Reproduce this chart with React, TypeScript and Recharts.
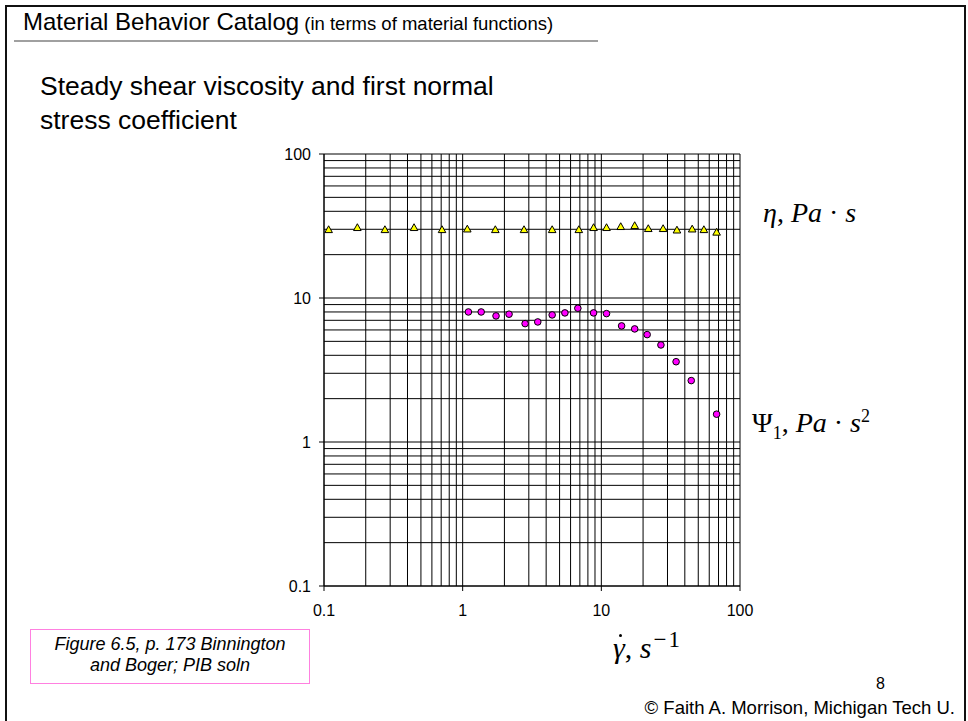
import React from 'react';
import { ScatterChart, Scatter, XAxis, YAxis, ReferenceLine } from 'recharts';

// ---- data ----
const etaRate = [0.108, 0.174, 0.275, 0.446, 0.71, 1.08, 1.72, 2.77, 4.42, 6.88, 8.79, 10.9, 13.8, 17.4, 21.8, 27.9, 35.1, 45.2, 54.9, 67.8];
const etaVal = [30, 31, 30, 31, 30, 30.3, 30, 30, 30, 30, 31, 31, 31.5, 32, 30.5, 30.5, 29.8, 30.3, 30, 28.8];

const psiRate = [1.1, 1.36, 1.74, 2.16, 2.82, 3.48, 4.42, 5.46, 6.77, 8.79, 10.9, 14.0, 17.4, 21.4, 26.9, 34.6, 44.5, 67.8];
const psiVal = [8.0, 8.0, 7.51, 7.72, 6.64, 6.82, 7.63, 7.88, 8.49, 7.88, 7.79, 6.4, 6.1, 5.57, 4.72, 3.61, 2.67, 1.56];

const decadeTicks = [0.1, 1, 10, 100];
const gridValues = [
  0.1, 0.2, 0.3, 0.4, 0.5, 0.6, 0.7, 0.8, 0.9,
  1, 2, 3, 4, 5, 6, 7, 8, 9,
  10, 20, 30, 40, 50, 60, 70, 80, 90,
  100,
];

const etaData = etaRate.map((x, i) => ({ x, y: etaVal[i] }));
const psiData = psiRate.map((x, i) => ({ x, y: psiVal[i] }));

const sans = "'Liberation Sans', Arial, sans-serif";
const serif = "'Liberation Serif', 'Times New Roman', serif";

const Tri = (p: any) => (
  <polygon
    points={`${p.cx - 3.8},${p.cy + 3.3} ${p.cx + 3.8},${p.cy + 3.3} ${p.cx},${p.cy - 3.5}`}
    fill="#ffff00"
    stroke="#000"
    strokeWidth={1}
  />
);
const Dot = (p: any) => (
  <circle cx={p.cx} cy={p.cy} r={3.3} fill="#ff00ff" stroke="#000" strokeWidth={1} />
);

export default function App() {
  return (
    <div
      style={{
        position: 'absolute',
        left: 0,
        top: 0,
        width: 968,
        height: 721,
        overflow: 'hidden',
        background: '#fff',
        fontFamily: sans,
        color: '#000',
      }}
    >
      {/* slide frame */}
      <div
        style={{
          position: 'absolute',
          left: 5,
          top: 5,
          width: 961,
          height: 760,
          boxSizing: 'border-box',
          border: '2.5px solid #111',
        }}
      />
      {/* header */}
      <div style={{ position: 'absolute', left: 23, top: 10, whiteSpace: 'nowrap', lineHeight: 1 }}>
        <span style={{ fontSize: 24 }}>Material Behavior Catalog</span>
        <span style={{ fontSize: 18.5 }}> (in terms of material functions)</span>
      </div>
      <div style={{ position: 'absolute', left: 14, top: 40, width: 584, height: 2, background: '#a0a0a0' }} />
      {/* subtitle */}
      <div style={{ position: 'absolute', left: 40, top: 69, fontSize: 26.5, lineHeight: '34px', whiteSpace: 'nowrap' }}>
        Steady shear viscosity and first normal
        <br />
        stress coefficient
      </div>

      <div style={{ position: 'absolute', left: 0, top: 0 }}>
        <ScatterChart width={968} height={721} margin={{ top: 154, right: 228, bottom: 105, left: 0 }}>
          {gridValues.map((v) => (
            <ReferenceLine key={'vx' + v} x={v} stroke="#000" strokeWidth={1} />
          ))}
          {gridValues.map((v) => (
            <ReferenceLine key={'hy' + v} y={v} stroke="#000" strokeWidth={1} />
          ))}
          <XAxis
            dataKey="x"
            type="number"
            scale="log"
            domain={[0.1, 100]}
            ticks={decadeTicks}
            interval={0}
            allowDataOverflow
            height={30}
            tickSize={5}
            tickMargin={14}
            stroke="#000"
            tick={{ fill: '#000', fontSize: 16, fontFamily: sans }}
          />
          <YAxis
            dataKey="y"
            type="number"
            scale="log"
            domain={[0.1, 100]}
            ticks={decadeTicks}
            interval={0}
            allowDataOverflow
            width={324}
            tickSize={5}
            tickMargin={8}
            stroke="#000"
            tick={{ fill: '#000', fontSize: 16, fontFamily: sans }}
          />
          <Scatter data={etaData} shape={Tri} isAnimationActive={false} />
          <Scatter data={psiData} shape={Dot} isAnimationActive={false} />
        </ScatterChart>
      </div>

      {/* series labels */}
      <div style={{ position: 'absolute', left: 763, top: 199, fontFamily: serif, fontSize: 28, whiteSpace: 'nowrap', lineHeight: 1 }}>
        <i>η</i>, <i>Pa</i> · <i>s</i>
      </div>
      <div style={{ position: 'absolute', left: 752, top: 407, fontFamily: serif, fontSize: 28, whiteSpace: 'nowrap', lineHeight: 1 }}>
        Ψ<sub style={{ fontSize: 18 }}>1</sub>, <i>Pa</i> · <i>s</i>
        <sup style={{ fontSize: 18 }}>2</sup>
      </div>
      {/* x-axis label */}
      <div style={{ position: 'absolute', left: 613, top: 628, fontFamily: serif, fontSize: 30, whiteSpace: 'nowrap', lineHeight: 1 }}>
        <span style={{ position: 'relative', display: 'inline-block' }}>
          <i>γ</i>
          <span
            style={{
              position: 'absolute',
              left: 6,
              top: 1,
              width: 3,
              height: 3,
              borderRadius: 2,
              background: '#000',
            }}
          />
        </span>
        , <i>s</i>
        <sup style={{ fontSize: 23, marginLeft: 2, letterSpacing: 2 }}>−1</sup>
      </div>

      {/* citation box */}
      <div
        style={{
          position: 'absolute',
          left: 30,
          top: 629,
          width: 280,
          height: 55,
          boxSizing: 'border-box',
          border: '1.5px solid #ff80e0',
          fontStyle: 'italic',
          fontSize: 18,
          textAlign: 'center',
          lineHeight: '21px',
          paddingTop: 4,
          whiteSpace: 'nowrap',
        }}
      >
        Figure 6.5, p. 173 Binnington
        <br />
        and Boger; PIB soln
      </div>

      {/* slide number and copyright */}
      <div style={{ position: 'absolute', left: 876, top: 675, fontSize: 16 }}>8</div>
      <div style={{ position: 'absolute', right: 13, top: 697, fontSize: 18.5, whiteSpace: 'nowrap' }}>
        © Faith A. Morrison, Michigan Tech U.
      </div>
    </div>
  );
}
